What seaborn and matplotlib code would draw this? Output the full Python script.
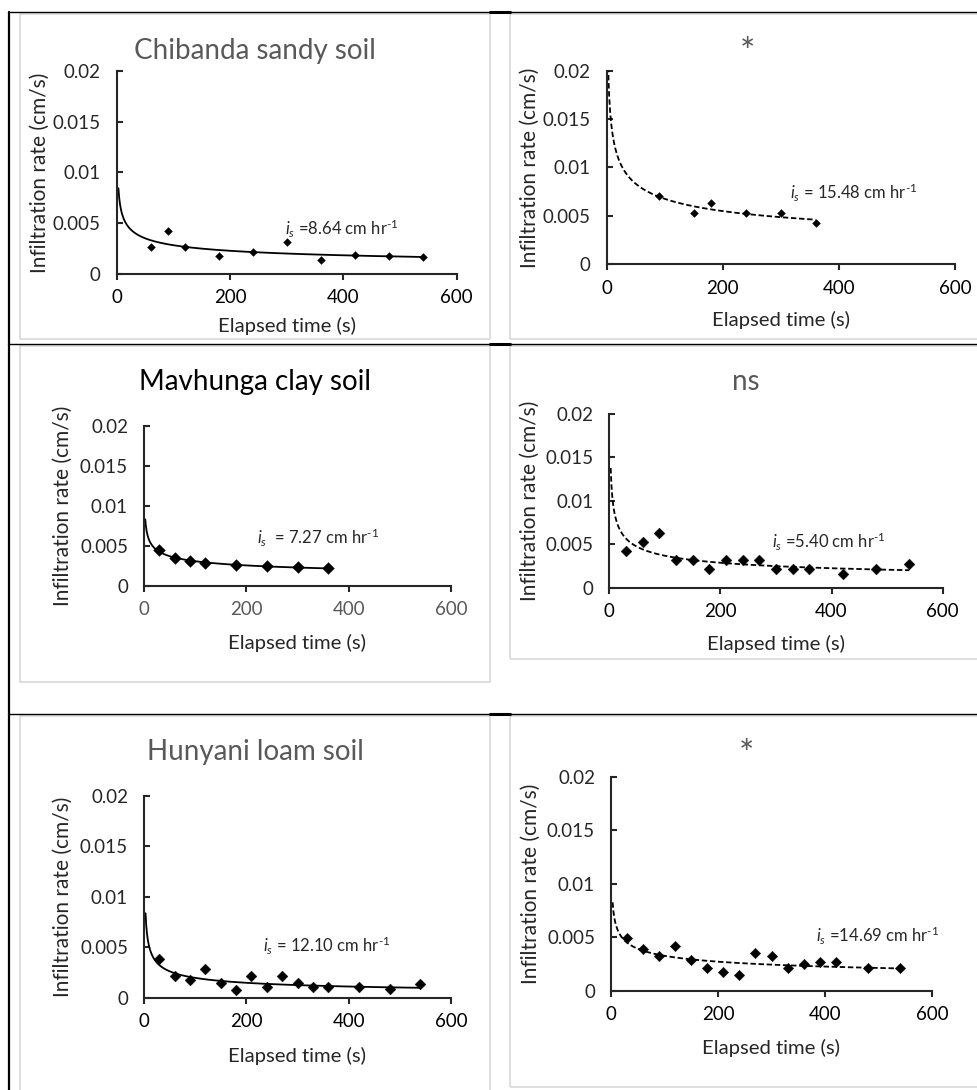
import numpy as np
import pandas as pd
import matplotlib
matplotlib.use("Agg")
import matplotlib.pyplot as plt
import seaborn as sns
from matplotlib.patches import Rectangle
from matplotlib.lines import Line2D

# --------------------------------------------------------------
# Data
# --------------------------------------------------------------
titles = ["Chibanda sandy soil", "*", "Mavhunga clay soil", "ns", "Hunyani loam soil", "*"]
is_labels = [r"$i_s$ =8.64 cm hr$^{\text{-1}}$", r"$i_s$ = 15.48 cm hr$^{\text{-1}}$",
             r"$i_s$  = 7.27 cm hr$^{\text{-1}}$", r"$i_s$ =5.40 cm hr$^{\text{-1}}$",
             r"$i_s$ = 12.10 cm hr$^{\text{-1}}$", r"$i_s$ =14.69 cm hr$^{\text{-1}}$"]

t1 = [60, 90, 120, 180, 240, 300, 360, 420, 480, 540]
r1 = [0.00266, 0.00426, 0.00266, 0.00177, 0.00216, 0.00318, 0.00134, 0.00187, 0.00177, 0.00164]

t2 = [90, 150, 180, 240, 300, 360]
r2 = [0.00706, 0.00527, 0.00633, 0.00527, 0.00527, 0.00423]

t3 = [30, 60, 90, 120, 180, 240, 300, 360]
r3 = [0.00445, 0.00349, 0.00308, 0.00287, 0.00262, 0.00245, 0.00233, 0.00225]

t4 = [30, 60, 90, 120, 150, 180, 210, 240, 270, 300, 330, 360, 420, 480, 540]
r4 = [0.00422, 0.00526, 0.0063, 0.00315, 0.00315, 0.00211, 0.00315, 0.00315, 0.00315,
      0.00211, 0.00211, 0.00211, 0.00161, 0.00211, 0.00269]

t5 = [30, 60, 90, 120, 150, 180, 210, 240, 270, 300, 330, 360, 420, 480, 540]
r5 = [0.00387, 0.00212, 0.00175, 0.00281, 0.00142, 0.00073, 0.00212, 0.00106, 0.00212,
      0.00142, 0.00106, 0.00106, 0.00106, 0.00083, 0.00132]

t6 = [30, 60, 90, 120, 150, 180, 210, 240, 270, 300, 330, 360, 390, 420, 480, 540]
r6 = [0.00495, 0.00392, 0.00323, 0.00423, 0.00286, 0.00215, 0.0018, 0.00146, 0.00355,
      0.00323, 0.00215, 0.00249, 0.00267, 0.00267, 0.00215, 0.00215]

x_ticks = [0, 200, 400, 600]
x_ticklabels = ["0", "200", "400", "600"]
y_ticks = [0, 0.005, 0.01, 0.015, 0.02]
y_ticklabels = ["0", "0.005", "0.01", "0.015", "0.02"]

# --------------------------------------------------------------
# Layout (pixels in a 978 x 1090 canvas)
# --------------------------------------------------------------
W, H = 978, 1090
# axes box: left, bottom(y=0), right, top(y=0.02)
axes_px = [(116.7, 274, 456.7, 70.7), (606.7, 264.3, 955, 70.7),
           (144, 586, 451, 425.7), (609.3, 587.7, 942.7, 414),
           (144, 997.7, 451, 796), (611, 991, 932, 776.7)]
charts_px = [(20, 14, 490, 339), (510, 14, 982, 339),
             (20, 346, 490, 682), (510, 346, 982, 659),
             (20, 716, 490, 1095), (510, 716, 982, 1087)]
title_xy = [(255, 59), (747, 64), (255, 390), (746, 390), (255, 760), (746, 766)]
title_col = ["#595959", "#595959", "black", "#595959", "#595959", "#595959"]
title_size = [20, 26, 20, 20, 20, 26]
ylab_x = [40, 530, 63, 530, 63, 531]
xlab_base = [332, 326, 649, 650, 1062, 1054]
note_xy = [(297, 0.00384), (315, 0.00671), (220, 0.00524), (292, 0.00453), (233, 0.00446), (384, 0.00451)]
dashed = [False, True, False, True, False, True]
msize = [16, 16, 36, 30, 30, 28]
fit_start = [3, 1.5, 2.5, 2.5, 3, 3]
xtick_col = ["black", "black", "#595959", "black", "black", "black"]

series = [(t1, r1), (t2, r2), (t3, r3), (t4, r4), (t5, r5), (t6, r6)]

sns.set_style("ticks")
plt.rcParams["font.family"] = ["Lato", "DejaVu Sans"]
plt.rcParams["mathtext.fontset"] = "custom"
plt.rcParams["mathtext.rm"] = "Lato"
plt.rcParams["mathtext.it"] = "Lato:italic"

fig = plt.figure(figsize=(W / 100, H / 100), dpi=100)
fig.patch.set_facecolor("white")

# table lines
def hline(y, x0, x1, lw):
    fig.add_artist(Line2D([x0 / W, x1 / W], [1 - y / H, 1 - y / H], color="black", lw=lw))

for y in [12, 344, 714]:
    hline(y, 8, 978, 1.0)
    hline(y, 490, 510, 2.2)
fig.add_artist(Line2D([8.5 / W, 8.5 / W], [1 - 12 / H, 0], color="black", lw=1.6))

# chart frames
for (x0, y0, x1, y1) in charts_px:
    fig.add_artist(Rectangle((x0 / W, 1 - y1 / H), (x1 - x0) / W, (y1 - y0) / H,
                             transform=fig.transFigure, fill=False, edgecolor="#d9d9d9", lw=1.2))

for i, (t, r) in enumerate(series):
    l, b, rr, tp = axes_px[i]
    ax = fig.add_axes([l / W, 1 - b / H, (rr - l) / W, (b - tp) / H])
    ax.patch.set_alpha(0)
    df = pd.DataFrame({"t": t, "rate": r})

    # power trendline, like Excel's
    coef = np.polyfit(np.log(df["t"]), np.log(df["rate"]), 1)
    tt = np.linspace(fit_start[i], df["t"].max(), 400)
    fit = pd.DataFrame({"t": tt, "rate": np.exp(coef[1]) * tt ** coef[0]})
    sns.lineplot(data=fit, x="t", y="rate", ax=ax, color="black", lw=1.3,
                 linestyle=(0, (3, 1.5)) if dashed[i] else "-")
    sns.scatterplot(data=df, x="t", y="rate", ax=ax, marker="D", s=msize[i],
                    color="black", edgecolor="black", linewidth=0.3, zorder=3)

    ax.set_xlim(0, 600)
    ax.set_ylim(0, 0.02)
    ax.set_xticks(x_ticks)
    ax.set_xticklabels(x_ticklabels)
    ax.set_yticks(y_ticks)
    ax.set_yticklabels(y_ticklabels)
    ax.set_xlabel("")
    ax.set_ylabel("")
    sns.despine(ax=ax)
    for s in ["left", "bottom"]:
        ax.spines[s].set_linewidth(1.5)
    ax.tick_params(axis="y", direction="in", length=4, width=1.5, pad=11.5, labelsize=13.5)
    ax.tick_params(axis="x", direction="out", length=4, width=1.5, pad=7, labelsize=13.5,
                   labelcolor=xtick_col[i])
    ax.text(note_xy[i][0], note_xy[i][1], is_labels[i], fontsize=12, ha="left", va="baseline")

    fig.text(title_xy[i][0] / W, 1 - title_xy[i][1] / H, titles[i], fontsize=title_size[i],
             color=title_col[i], ha="center", va="baseline")
    fig.text(ylab_x[i] / W, 1 - (b + tp) / 2 / H, "Infiltration rate (cm/s)", fontsize=15,
             rotation=90, ha="center", va="center")
    fig.text((l + rr) / 2 / W, 1 - xlab_base[i] / H, "Elapsed time (s)", fontsize=14.6,
             ha="center", va="baseline")

fig.savefig("out.png", dpi=100, facecolor="white")
